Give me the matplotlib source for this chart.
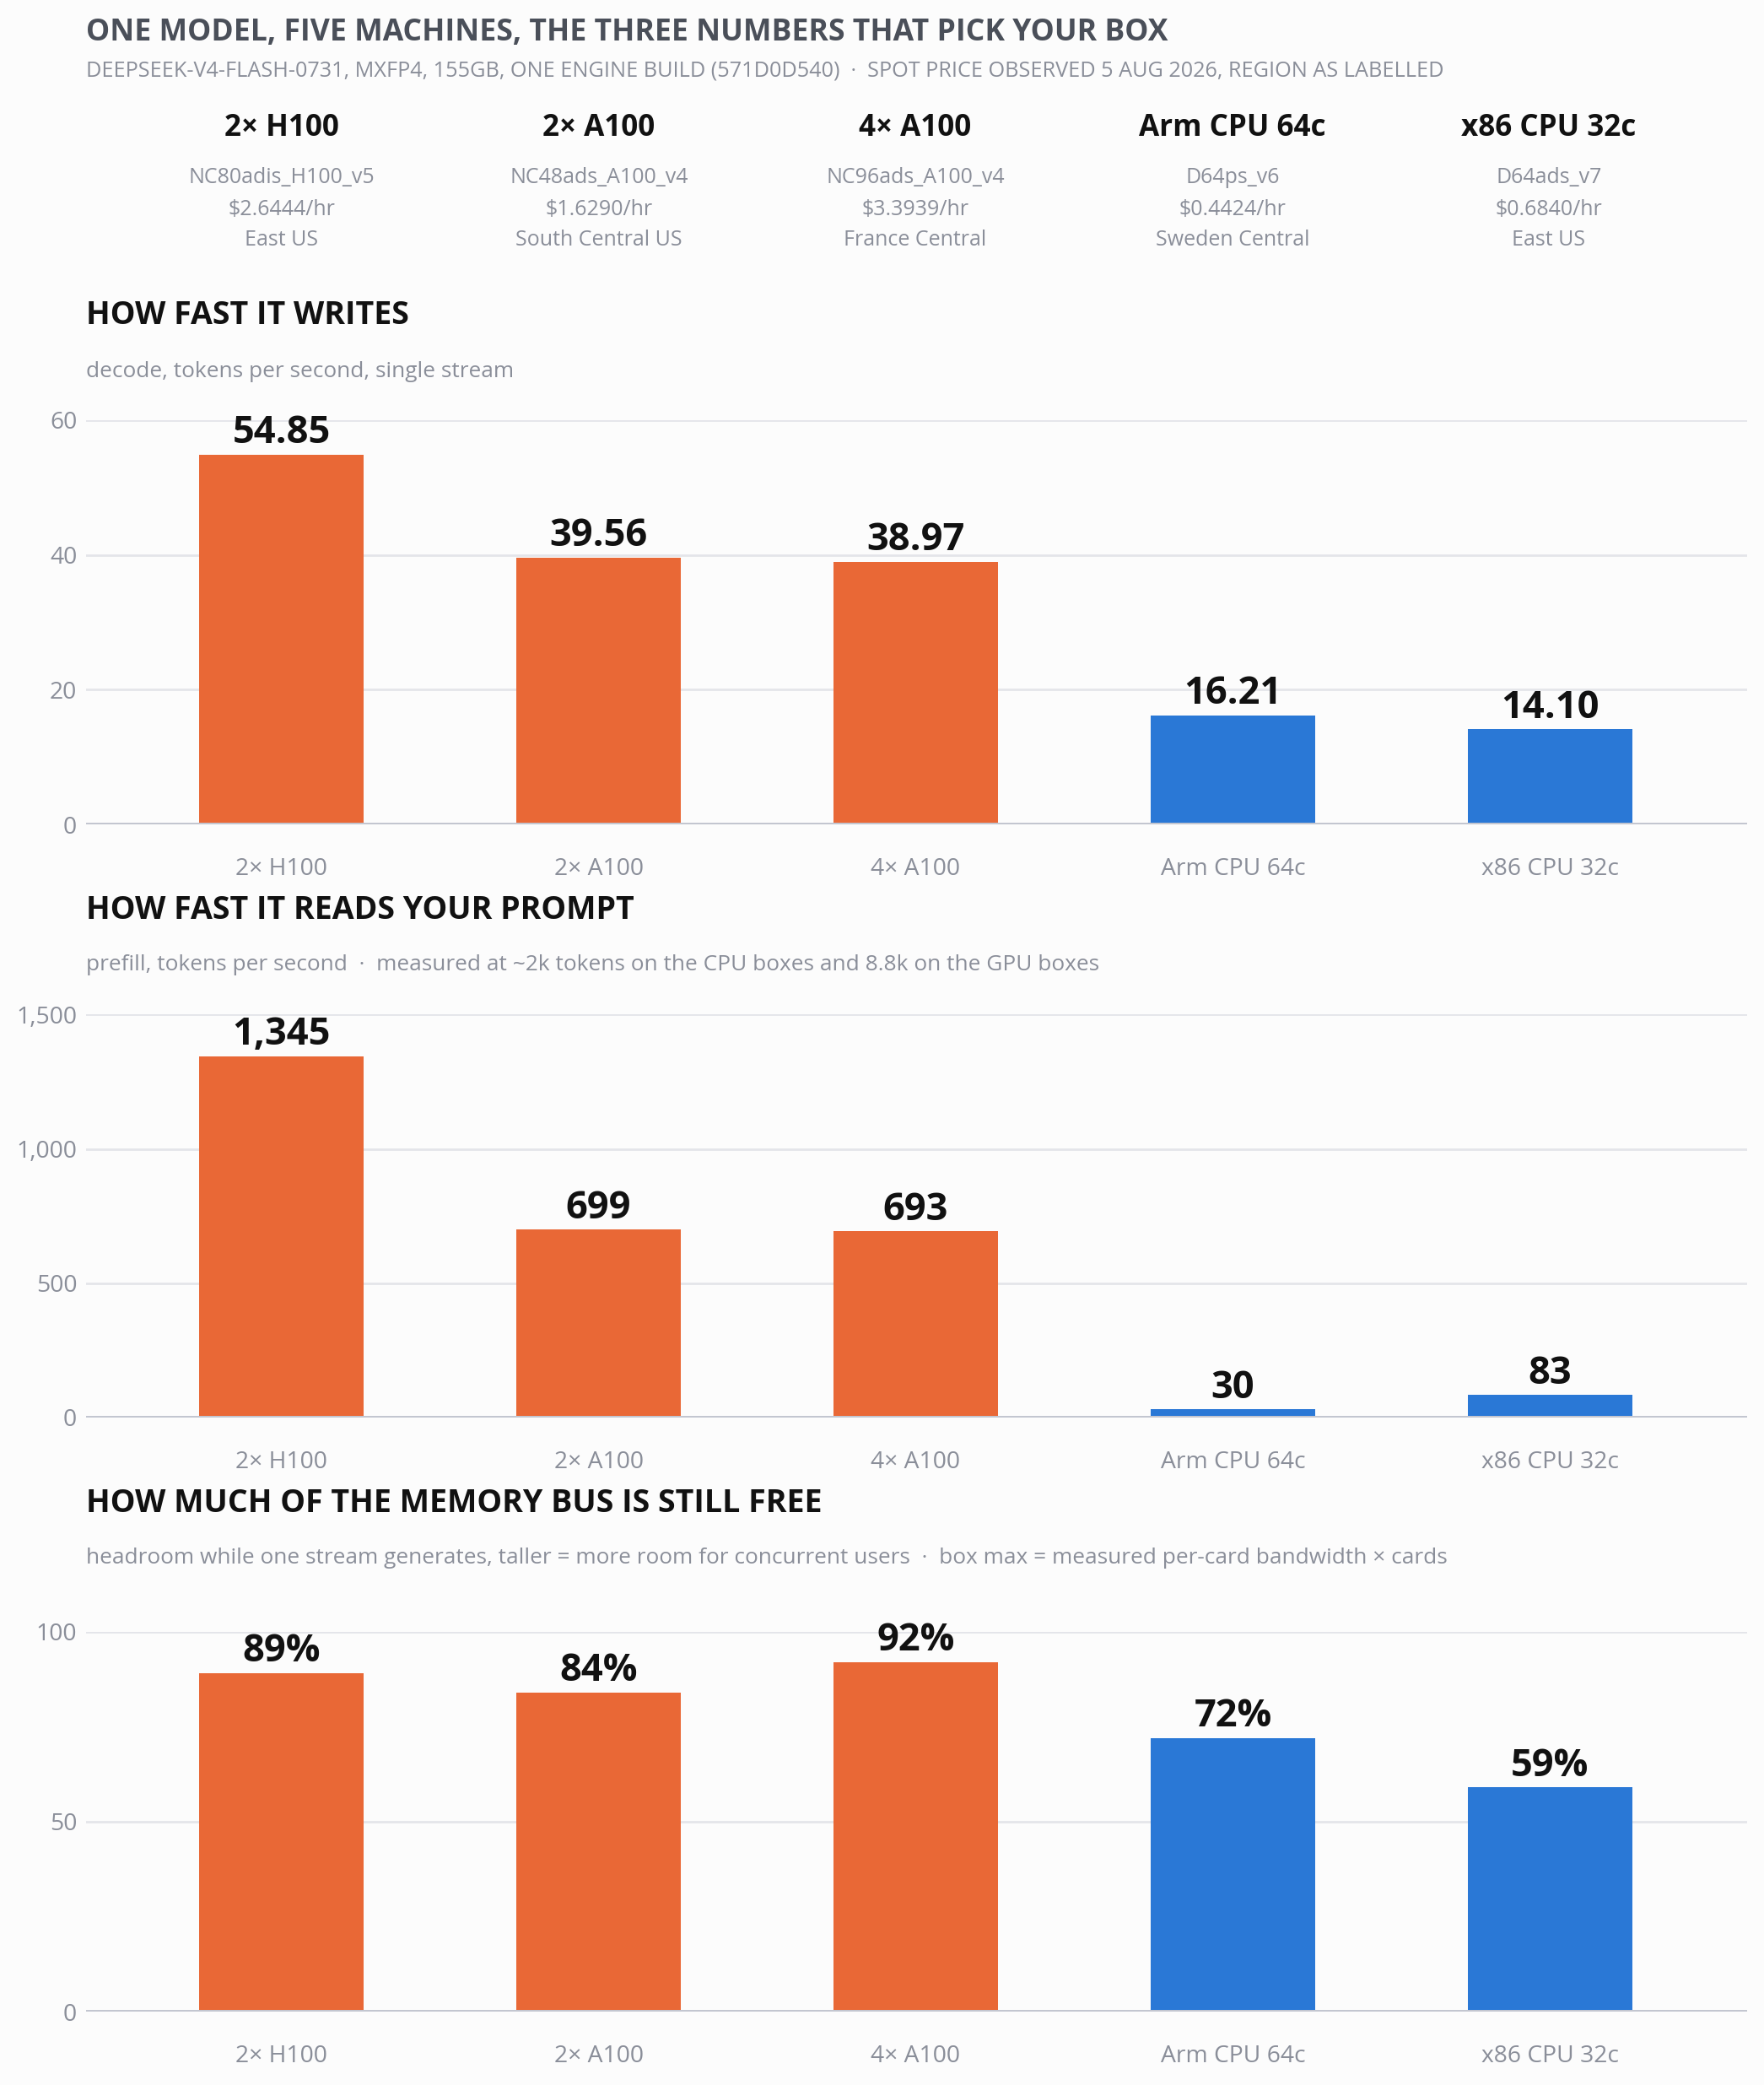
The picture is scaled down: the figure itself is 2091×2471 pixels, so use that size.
import matplotlib
matplotlib.use("Agg")
import matplotlib.pyplot as plt
from matplotlib.ticker import FuncFormatter

plt.rcParams['font.family'] = ['Open Sans', 'DejaVu Sans']

# --- data ---
machines = ["2× H100", "2× A100", "4× A100", "Arm CPU 64c", "x86 CPU 32c"]
skus = ["NC80adis_H100_v5", "NC48ads_A100_v4", "NC96ads_A100_v4", "D64ps_v6", "D64ads_v7"]
prices = ["$2.6444/hr", "$1.6290/hr", "$3.3939/hr", "$0.4424/hr", "$0.6840/hr"]
regions = ["East US", "South Central US", "France Central", "Sweden Central", "East US"]
is_gpu = [True, True, True, False, False]

decode_tps = [54.85, 39.56, 38.97, 16.21, 14.10]
prefill_tps = [1345, 699, 693, 30, 83]
headroom_pct = [89, 84, 92, 72, 59]

decode_ticks = [0, 20, 40, 60]
prefill_ticks = [0, 500, 1000, 1500]
headroom_ticks = [0, 50, 100]

ORANGE = "#E96836"
BLUE = "#2A78D6"
BG = "#FCFCFC"
GRID = "#E4E5EA"
BASE = "#C3C6D0"
GREY = "#8A8E99"
DARK = "#4A4F59"
INK = "#111111"

W, H = 1328, 1568  # layout reference grid


def fx(x):
    return x / W


def fy(y):
    # small nudge so centred text lines up with the reference baseline
    return 1 - (y + 2.5) / H


fig = plt.figure(figsize=(10.455, 12.355), dpi=200, facecolor=BG)

# header
fig.text(fx(65), fy(22), "ONE MODEL, FIVE MACHINES, THE THREE NUMBERS THAT PICK YOUR BOX",
         fontsize=12.8, fontweight="bold", color=DARK, va="center", ha="left")
fig.text(fx(65), fy(51),
         "DEEPSEEK-V4-FLASH-0731, MXFP4, 155GB, ONE ENGINE BUILD (571D0D540)  ·  "
         "SPOT PRICE OBSERVED 5 AUG 2026, REGION AS LABELLED",
         fontsize=9.1, color=GREY, va="center", ha="left")

centers = [212, 451, 689, 928, 1166]
for cx, name, sku, price, reg in zip(centers, machines, skus, prices, regions):
    fig.text(fx(cx), fy(94), name, fontsize=12.6, fontweight="bold", color=INK,
             ha="center", va="center")
    fig.text(fx(cx), fy(131), sku, fontsize=9.0, color=GREY, ha="center", va="center")
    fig.text(fx(cx), fy(155), price, fontsize=9.0, color=GREY, ha="center", va="center")
    fig.text(fx(cx), fy(178), reg, fontsize=9.0, color=GREY, ha="center", va="center")

panels = [
    ("HOW FAST IT WRITES", "decode, tokens per second, single stream",
     235, 277, 316, 620, decode_tps, decode_ticks, lambda v: f"{v:.2f}"),
    ("HOW FAST IT READS YOUR PROMPT",
     "prefill, tokens per second  ·  measured at ~2k tokens on the CPU boxes and 8.8k on the GPU boxes",
     682, 723, 763, 1066, prefill_tps, prefill_ticks, lambda v: f"{v:,.0f}"),
    ("HOW MUCH OF THE MEMORY BUS IS STILL FREE",
     "headroom while one stream generates, taller = more room for concurrent users  ·  "
     "box max = measured per-card bandwidth × cards",
     1128, 1169, 1227, 1513, headroom_pct, headroom_ticks, lambda v: f"{v:.0f}%"),
]

colors = [ORANGE if g else BLUE for g in is_gpu]
x = list(range(len(machines)))

for title, sub, ty, sy, top, bottom, vals, ticks, fmt in panels:
    fig.text(fx(65), fy(ty), title, fontsize=13.5, fontweight="bold", color=INK,
             ha="left", va="center")
    fig.text(fx(65), fy(sy), sub, fontsize=9.45, color=GREY, ha="left", va="center")

    ax = fig.add_axes([fx(65), 1 - bottom / H, fx(1315) - fx(65), (bottom - top) / H])
    ax.set_facecolor(BG)
    ax.bar(x, vals, width=0.52, color=colors, zorder=3)
    ax.set_xlim(-0.615, 4.62)
    ax.set_ylim(0, ticks[-1])
    ax.set_yticks(ticks)
    ax.yaxis.set_major_formatter(FuncFormatter(lambda v, p: f"{v:,.0f}"))
    ax.set_xticks(x)
    ax.set_xticklabels(machines)
    ax.grid(axis="y", color=GRID, linewidth=1.0, zorder=0)
    ax.axhline(0, color=BASE, linewidth=1.8, zorder=4)
    for s in ax.spines.values():
        s.set_visible(False)
    ax.tick_params(axis="both", length=0, labelsize=10.2, labelcolor=GREY)
    ax.tick_params(axis="x", pad=14)
    ax.tick_params(axis="y", pad=4)
    for xi, v in zip(x, vals):
        ax.annotate(fmt(v), (xi, v), xytext=(0, 1), textcoords="offset points",
                    ha="center", va="bottom", fontsize=16.3, fontweight="bold",
                    color=INK, zorder=5, annotation_clip=False)

fig.savefig("out.png", dpi=200, facecolor=BG)
